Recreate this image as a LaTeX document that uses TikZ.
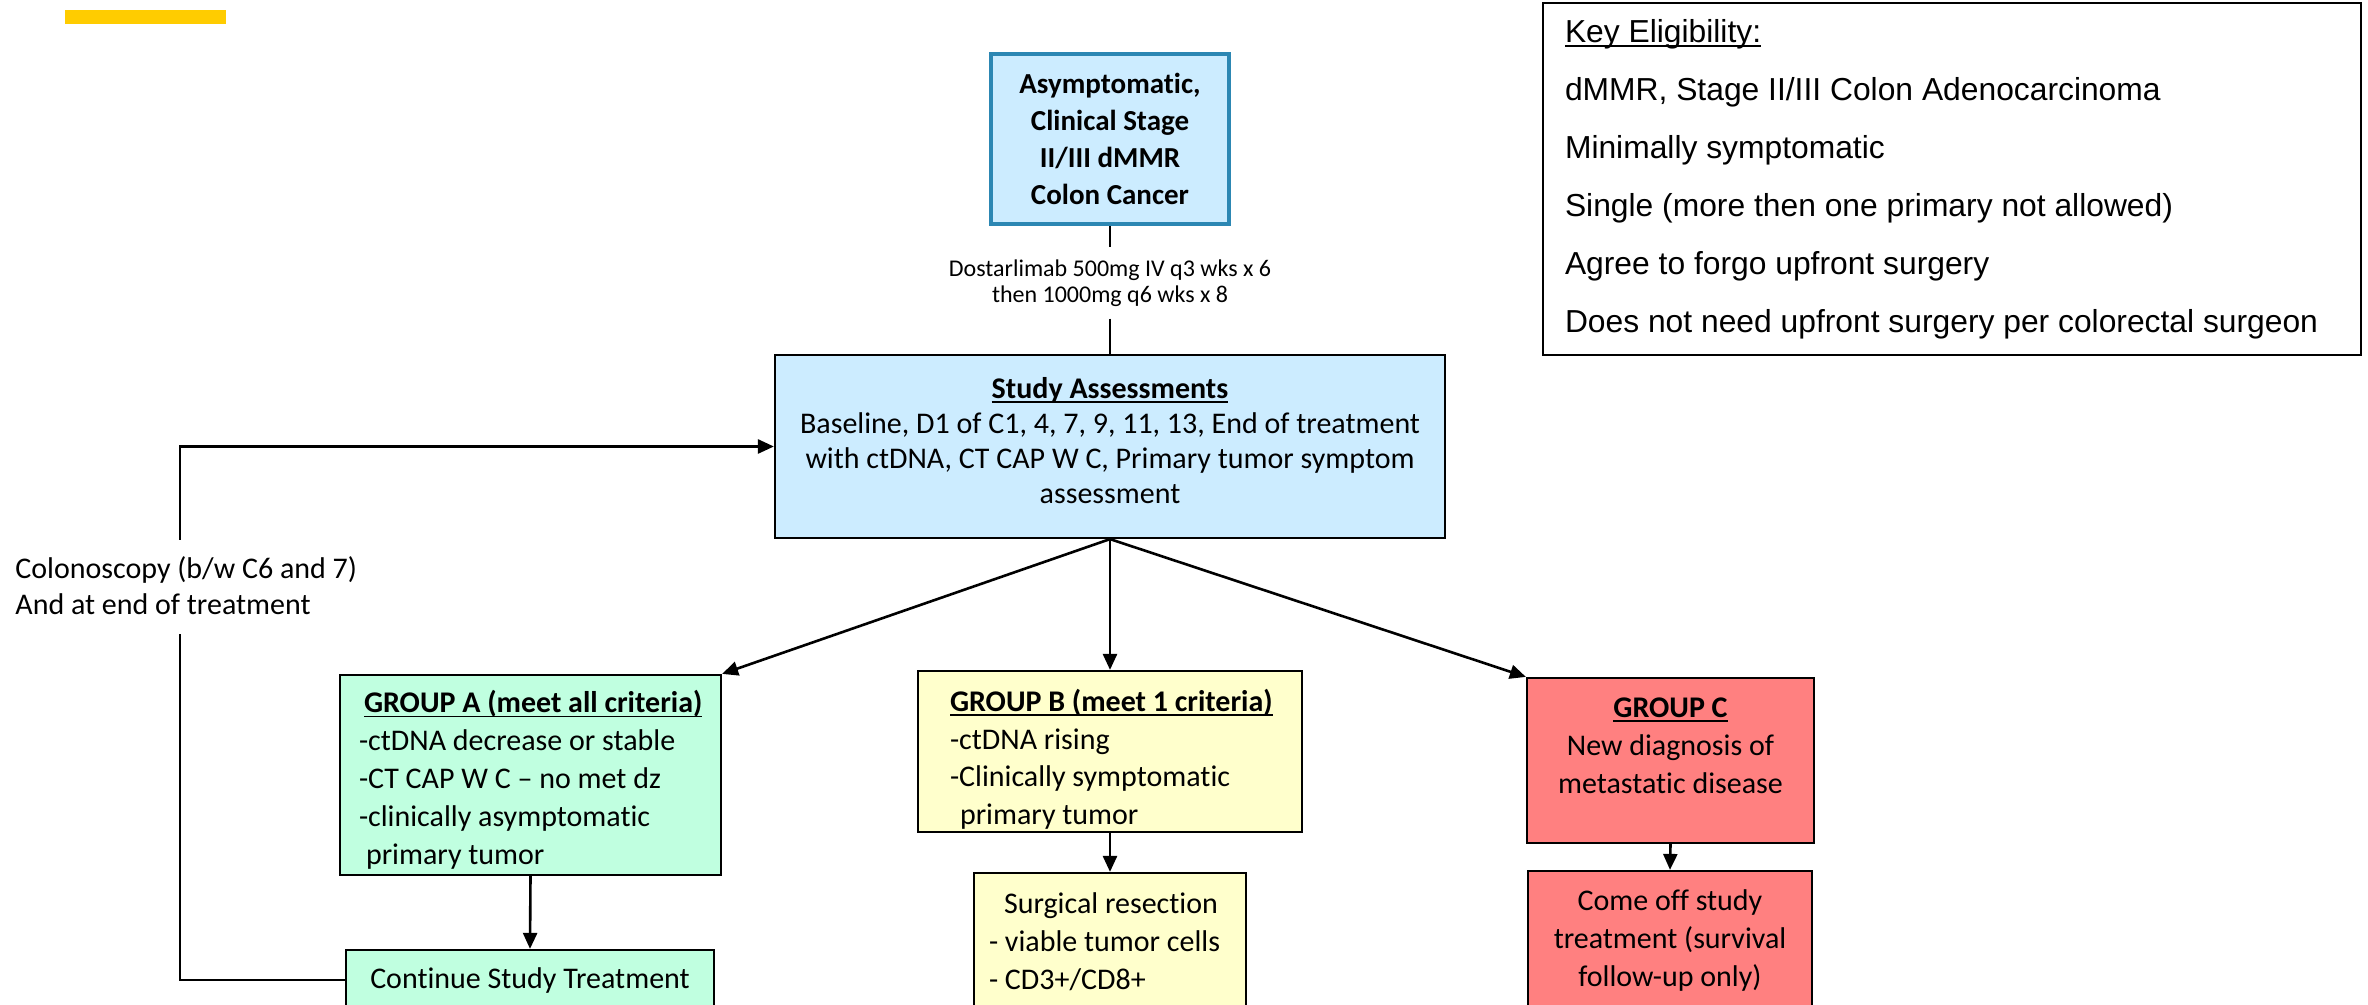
\documentclass[tikz,border=0pt]{standalone}
\usepackage{fontspec}
\setmainfont{Carlito}[Ligatures={NoCommon}]
\newfontfamily\keyfont{Liberation Sans}
\usetikzlibrary{arrows.meta}

\definecolor{barYellow}{HTML}{FFCC00}
\definecolor{paleBlue}{HTML}{CCECFF}
\definecolor{tealEdge}{HTML}{2C87B3}
\definecolor{mintFill}{HTML}{C0FFE0}
\definecolor{paleYellow}{HTML}{FFFFCC}
\definecolor{salmonFill}{HTML}{FF8080}

% underline at a fixed depth
\newcommand{\undl}[1]{\setbox0\hbox{#1}\rlap{\rule[-2.2pt]{\wd0}{0.8pt}}\box0}
% invisible strut to push a text block up (depth) or down (height)
\newcommand{\pushup}[1]{\rule[-#1]{0pt}{#1}}
\newcommand{\pushdown}[1]{\rule{0pt}{#1}}

\begin{document}
\begin{tikzpicture}[x=0.5pt, y=-0.5pt, >={Triangle[length=8pt, width=7pt]},
  box/.style={draw=black, line width=1.1pt, inner sep=0pt},
  body/.style={font=\fontsize{15}{18.9}\selectfont},
  conn/.style={line width=1.3pt}]
  % --- Flow chart of the study, coordinates in pixels of a 2368x1005 page ---
  \useasboundingbox (0,0) rectangle (2368,1005);
  \clip (0,0) rectangle (2368,1005);

  % Yellow bar at the top left
  \fill[barYellow] (65,10) rectangle (226,24);

  % Entry box and dosing
  \node[box, draw=tealEdge, line width=1.8pt, fill=paleBlue, minimum width=119pt, minimum height=85pt,
        align=center, font=\fontsize{14.5}{18.6}\selectfont\bfseries] (entry) at (1110,139)
    {Asymptomatic,\\Clinical Stage\\II/III dMMR\\Colon Cancer};
  \node[align=center, inner sep=6pt, font=\fontsize{12}{12.8}\selectfont] (dose) at (1110,283)
    {Dostarlimab 500mg IV q3 wks x 6\\then 1000mg q6 wks x 8};

  % Assessments
  \node[box, fill=paleBlue, minimum width=335pt, minimum height=91.5pt, align=center,
        font=\fontsize{15}{17.5}\selectfont] (assess) at (1110,446.5)
    {\undl{\textbf{Study Assessments}}\\Baseline, D1 of C1, 4, 7, 9, 11, 13, End of treatment\\
     with ctDNA, CT CAP W C, Primary tumor symptom\\assessment\pushup{6pt}};

  % Eligibility list
  \node[box, fill=white, minimum width=409pt, minimum height=176pt, text width=387pt, align=flush left,
        font=\keyfont\fontsize{15.9}{29}\selectfont] (elig) at (1952,179)
    {\undl{Key Eligibility:}\\dMMR, Stage II/III Colon Adenocarcinoma\\Minimally symptomatic\\
     Single (more then one primary not allowed)\\Agree to forgo upfront surgery\\
     Does not need upfront surgery per colorectal surgeon};

  % Groups
  \node[box, body, fill=mintFill, minimum width=190.5pt, minimum height=100pt, text width=171.5pt,
        align=flush left] (grpA) at (530.5,775)
    {\pushdown{16pt}\hspace*{2.5pt}\undl{\textbf{GROUP A (meet all criteria)}}\\-ctDNA decrease or stable\\
     -CT CAP W C – no met dz\\-clinically asymptomatic\\\hspace*{3.5pt}primary tumor};
  \node[box, body, fill=paleYellow, minimum width=192pt, minimum height=80.5pt, text width=160pt,
        align=flush left] (grpB) at (1110,751.5)
    {\pushdown{19pt}\undl{\textbf{GROUP B (meet 1 criteria)}}\\-ctDNA rising\\-Clinically symptomatic\\
     \hspace*{5pt}primary tumor};
  \node[box, body, fill=salmonFill, minimum width=143.5pt, minimum height=82.5pt,
        align=center] (grpC) at (1670.5,760.5)
    {\undl{\textbf{GROUP C}}\\New diagnosis of\\metastatic disease\pushup{15pt}};

  % Outcomes (cut by the lower edge)
  \node[box, body, fill=mintFill, minimum width=184pt, minimum height=30pt] (cont) at (530,980)
    {Continue Study Treatment};
  \node[box, body, fill=paleYellow, minimum width=136pt, minimum height=68.5pt, text width=121pt,
        align=flush left] (surg) at (1110,941.5)
    {\hspace*{7.5pt}Surgical resection\\- viable tumor cells\\- CD3+/CD8+};
  \node[box, body, fill=salmonFill, minimum width=142pt, minimum height=69.5pt,
        align=center] (offstudy) at (1670,940.5)
    {Come off study\\treatment (survival\\follow-up only)};

  % Colonoscopy loop
  \node[font=\fontsize{15}{18}\selectfont, anchor=west, align=flush left, inner sep=0pt] (colo) at (15,586)
    {Colonoscopy (b/w C6 and 7)\\And at end of treatment};
  \coordinate (loopLow) at (180,634);
  \coordinate (loopHigh) at (180,540);

  % Connectors
  \draw[conn] (entry.south) -- (dose.north);
  \draw[conn] (dose.south) -- (assess.north);
  \draw[conn, ->] (assess.south) -- (grpA.north east);
  \draw[conn, ->] (assess.south) -- (grpB.north);
  \draw[conn, ->] (assess.south) -- (grpC.north west);
  \draw[conn, ->] (grpA.south) -- (cont.north);
  \draw[conn, ->] (grpB.south) -- (surg.north);
  \draw[conn, ->] (grpC.south) -- (offstudy.north);
  \draw[conn] (cont.west) -| (loopLow);
  \draw[conn, ->] (loopHigh) |- (assess.west);
\end{tikzpicture}
\end{document}
